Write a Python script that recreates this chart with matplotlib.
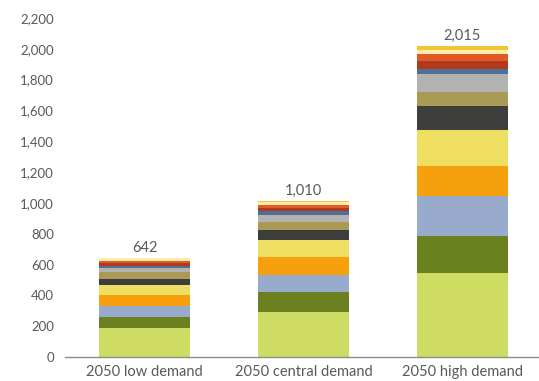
import matplotlib
matplotlib.use('Agg')
import matplotlib.pyplot as plt
import numpy as np

plt.rcParams['font.family'] = ['Lato', 'DejaVu Sans']

scenarios = ['2050 low demand', '2050 central demand', '2050 high demand']
totals = [642, 1010, 2015]

# stacked components, bottom to top
series = [
    ('s1', [190, 294, 544], '#cfdc64'),
    ('s2', [72, 126, 242], '#6b801f'),
    ('s3', [69, 112, 259], '#98abcc'),
    ('s4', [72, 115, 191], '#f5a00c'),
    ('s5', [65, 113, 238], '#eedf62'),
    ('s6', [39, 65, 156], '#3d3d3b'),
    ('s7', [47, 52, 91], '#a99b55'),
    ('s8', [23, 45, 117], '#b2b2b0'),
    ('s9', [15, 25, 32], '#4d6f98'),
    ('s10', [17, 20, 50], '#b3391c'),
    ('s11', [13, 22, 45], '#e05a28'),
    ('s12', [18, 18, 30], '#fbeeac'),
    ('s13', [2, 3, 20], '#f2c535'),
]

fig = plt.figure(figsize=(5.39, 3.81), dpi=100)
ax = fig.add_axes([0.121, 0.063, 0.884, 0.89])

x = np.arange(len(scenarios))
bottom = np.zeros(len(scenarios))
for name, vals, col in series:
    ax.bar(x, vals, 0.57, bottom=bottom, color=col, label=name)
    bottom += np.array(vals)

for xi, t, b in zip(x, totals, bottom):
    ax.text(xi, b + 22, f'{t:,}', ha='center', va='bottom', fontsize=10.5, color='#595959')

ax.set_ylim(0, 2200)
ax.set_xlim(-0.5, 2.5)
ax.set_yticks(np.arange(0, 2201, 200))
ax.yaxis.set_major_formatter(matplotlib.ticker.FuncFormatter(lambda v, p: f'{int(v):,}'))
ax.set_xticks(x)
ax.set_xticklabels(scenarios)
ax.tick_params(axis='y', length=0, labelsize=9.5, colors='#595959', pad=8)
ax.tick_params(axis='x', length=0, labelsize=10.5, colors='#595959', pad=6)
for s in ['top', 'right', 'left']:
    ax.spines[s].set_visible(False)
ax.spines['bottom'].set_color('#8c8c8c')
ax.spines['bottom'].set_linewidth(1.0)

plt.savefig('out.png', dpi=100)
